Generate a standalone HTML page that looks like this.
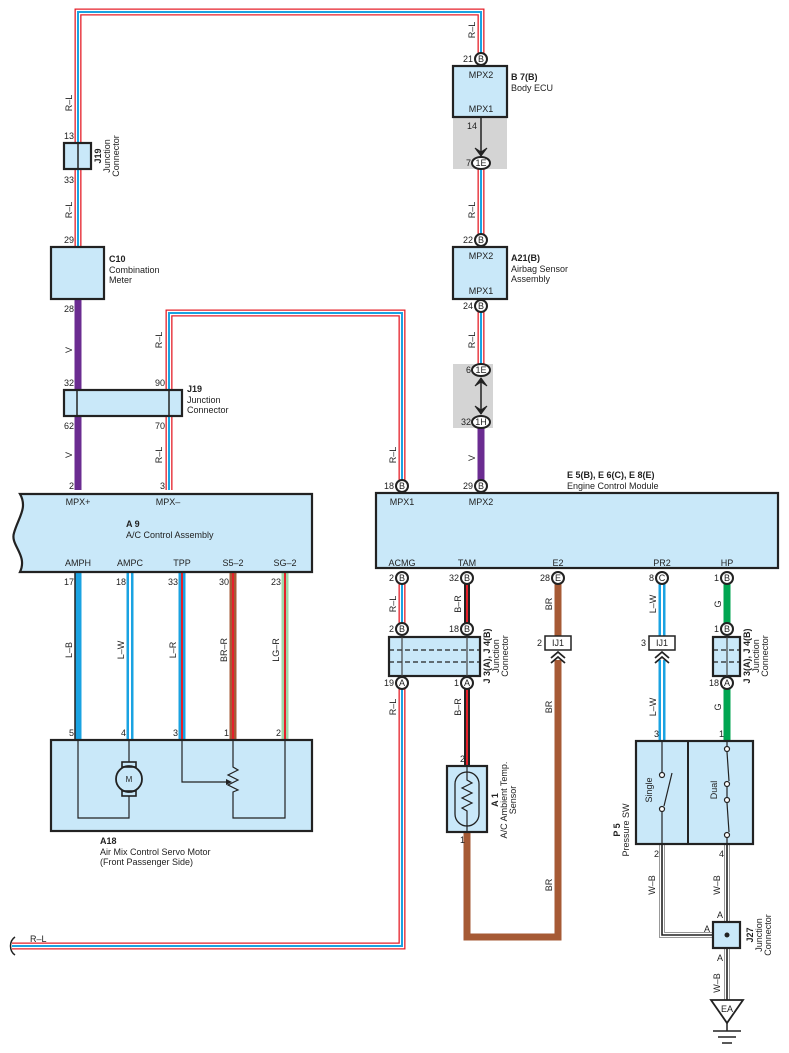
<!DOCTYPE html>
<html><head><meta charset="utf-8"><style>
html,body{margin:0;padding:0;background:#fff}
svg{display:block}
text{font-family:"Liberation Sans",sans-serif;font-size:9px;fill:#222}
.b{font-weight:bold}
.box{fill:#c9e8f9;stroke:#222;stroke-width:2.2}
.pc{fill:#fff;stroke:#222;stroke-width:2}
</style></head><body>
<svg width="789" height="1053" viewBox="0 0 789 1053" xmlns="http://www.w3.org/2000/svg">
<defs>
<path id="w1" d="M78 143 V12 H481 V53"/>
<path id="w1b" d="M78 169 V247"/>
<path id="w2" d="M169 416 V490"/>
<path id="w3" d="M169 390 V313 H402 V480"/>
<path id="w4" d="M481 169 V234"/>
<path id="w5" d="M481 312 V364"/>
<path id="w6" d="M402 584 V623"/>
<path id="w7" d="M402 689 V946 H12"/>
</defs>
<g fill="none">
<!-- R-L wires -->
<g stroke="#e5202a" stroke-width="7"><use href="#w1"/><use href="#w1b"/><use href="#w2"/><use href="#w3"/><use href="#w4"/><use href="#w5"/><use href="#w6"/><use href="#w7"/><path d="M78 64 V143"/></g>
<g stroke="#fff" stroke-width="4.4"><use href="#w1"/><use href="#w1b"/><use href="#w2"/><use href="#w3"/><use href="#w4"/><use href="#w5"/><use href="#w6"/><use href="#w7"/></g>
<g stroke="#1aa3e2" stroke-width="2"><use href="#w1"/><use href="#w1b"/><use href="#w2"/><use href="#w3"/><use href="#w4"/><use href="#w5"/><use href="#w6"/><use href="#w7"/></g>
<!-- purple -->
<path d="M78 299 V490 M481 428 V480" stroke="#6b2c91" stroke-width="7"/>
<!-- A9 to A18 -->
<path d="M78 572 V740 M130 572 V740 M182 572 V740" stroke="#1aa3e2" stroke-width="7"/>
<path d="M75 572 V740" stroke="#222" stroke-width="1.5"/>
<path d="M130 572 V740" stroke="#fff" stroke-width="2"/>
<path d="M182 572 V740" stroke="#e5202a" stroke-width="2"/>
<path d="M233 572 V740" stroke="#a65a35" stroke-width="7"/>
<path d="M233 572 V740" stroke="#e5202a" stroke-width="2"/>
<path d="M285 572 V740" stroke="#9fd8a8" stroke-width="7"/>
<path d="M285 572 V740" stroke="#e5202a" stroke-width="2"/>
<!-- TAM B-R -->
<path d="M467 584 V623 M467 689 V766" stroke="#222" stroke-width="6"/>
<path d="M467 584 V623 M467 689 V766" stroke="#e5202a" stroke-width="2"/>
<!-- brown -->
<path d="M467 832 V937 H558 V660 M558 584 V636" stroke="#a65a35" stroke-width="7"/>
<!-- PR2 L-W -->
<path d="M662 584 V636 M662 660 V741" stroke="#1aa3e2" stroke-width="7"/>
<path d="M662 584 V636 M662 660 V741" stroke="#fff" stroke-width="2"/>
<!-- HP G -->
<path d="M727 584 V623 M727 689 V741" stroke="#00a651" stroke-width="7"/>
<!-- W-B -->
<g><path d="M662 844 V935 H727 M727 844 V1000" stroke="#999" stroke-width="6"/>
<path d="M662 844 V935 H727 M727 844 V1000" stroke="#fff" stroke-width="4"/>
<path d="M662 844 V935 H727 M727 844 V1000" stroke="#222" stroke-width="1.6"/></g>
<path d="M15 937 C9 941,9 951,15 955" stroke="#222" stroke-width="1.5"/>
</g>

<!-- grey regions -->
<rect x="453" y="117" width="54" height="52" fill="#d4d4d4"/>
<rect x="453" y="364" width="40" height="64" fill="#d4d4d4"/>
<path d="M481 118 V156" stroke="#222" stroke-width="1.5"/>
<path d="M475 148 L481 156 L487 148 L481 152 Z" fill="#222" stroke="#222"/>
<path d="M481 378 V414" stroke="#222" stroke-width="1.5"/>
<path d="M475 386 L481 378 L487 386 L481 382 Z" fill="#222" stroke="#222"/>
<path d="M475 406 L481 414 L487 406 L481 410 Z" fill="#222" stroke="#222"/>

<!-- Boxes -->
<rect class="box" x="64" y="143" width="27" height="26"/><path d="M78 143 V169" stroke="#222" stroke-width="1.5"/>
<rect class="box" x="51" y="247" width="53" height="52"/>
<rect class="box" x="64" y="390" width="118" height="26"/><path d="M77 390 V416 M169 390 V416" stroke="#222" stroke-width="1.5"/>
<path class="box" d="M20 494 H312 V572 H20 C28 555,10 545,14 533 C18 518,28 508,20 494 Z"/>
<rect class="box" x="51" y="740" width="261" height="91"/>
<rect class="box" x="453" y="66" width="54" height="51"/>
<rect class="box" x="453" y="247" width="54" height="52"/>
<rect class="box" x="376" y="493" width="402" height="75"/>
<rect class="box" x="389" y="637" width="91" height="39"/>
<path d="M389 650 H480 M389 662 H480" stroke="#222" stroke-width="1.3" stroke-dasharray="5 3"/>
<path d="M402 637 V676 M467 637 V676" stroke="#444" stroke-width="1.2"/>
<rect class="box" x="713" y="637" width="27" height="39"/>
<path d="M713 650 H740 M713 662 H740" stroke="#222" stroke-width="1.3" stroke-dasharray="5 3"/>
<path d="M727 637 V676" stroke="#444" stroke-width="1.2"/>
<rect class="box" x="447" y="766" width="40" height="66"/>
<rect x="455" y="772" width="24" height="54" rx="12" fill="none" stroke="#222" stroke-width="1.3"/>
<path d="M467 766 V780 L472 783 L462 788 L472 793 L462 798 L472 803 L462 808 L467 811 V832" fill="none" stroke="#222" stroke-width="1.2"/>
<rect class="box" x="636" y="741" width="117" height="103"/><path d="M688 741 V844" stroke="#222" stroke-width="2"/>
<rect class="box" x="713" y="922" width="27" height="26"/>
<circle cx="727" cy="935" r="2.5" fill="#222"/>
<!-- IJ1 -->
<rect x="545" y="636" width="26" height="14" fill="#fff" stroke="#222" stroke-width="1.5"/>
<rect x="649" y="636" width="26" height="14" fill="#fff" stroke="#222" stroke-width="1.5"/>
<path d="M551 658 L558 652 L565 658 M551 663 L558 657 L565 663 M655 658 L662 652 L669 658 M655 663 L662 657 L669 663" fill="none" stroke="#222" stroke-width="1.8"/>

<!-- A18 internals -->
<g fill="none" stroke="#222" stroke-width="1.2">
<path d="M78 740 V818 H129 V796 M129 740 V762 M182 740 V782 H226 M233 740 V767 L238 770 L228 775 L238 780 L228 785 L238 790 L233 792 V818 H285 V740"/>
<circle cx="129" cy="779" r="13" stroke-width="1.8"/>
<rect x="122" y="762" width="14" height="5" stroke-width="1.6"/><rect x="122" y="791" width="14" height="5" stroke-width="1.6"/>
</g>
<path d="M226 779 L232 782 L226 785 Z" fill="#222"/>
<!-- P5 internals -->
<g fill="none" stroke="#222" stroke-width="1.2">
<path d="M662 741 V772 M662 812 V844 M664 806 L672 773 M727 741 V746 M727 752 L729 781 M727 787 V797 M727 803 L729 832 M727 838 V844"/>
<circle cx="662" cy="775" r="2.5" fill="#fff"/><circle cx="662" cy="809" r="2.5" fill="#fff"/>
<circle cx="727" cy="749" r="2.5" fill="#fff"/><circle cx="727" cy="784" r="2.5" fill="#fff"/>
<circle cx="727" cy="800" r="2.5" fill="#fff"/><circle cx="727" cy="835" r="2.5" fill="#fff"/>
</g>
<!-- ground -->
<path d="M711 1000 H743 L727 1023 Z" fill="#fff" stroke="#222" stroke-width="1.8"/>
<path d="M727 1023 V1031 M713 1031 H741 M718 1037 H736 M722 1043 H732" stroke="#222" stroke-width="1.5"/>
<text x="727" y="1012" text-anchor="middle">EA</text>

<!-- pin circles -->
<g>
<circle class="pc" cx="481" cy="59" r="6"/><circle class="pc" cx="481" cy="240" r="6"/><circle class="pc" cx="481" cy="306" r="6"/>
<circle class="pc" cx="402" cy="486" r="6"/><circle class="pc" cx="481" cy="486" r="6"/>
<circle class="pc" cx="402" cy="578" r="6"/><circle class="pc" cx="467" cy="578" r="6"/><circle class="pc" cx="558" cy="578" r="6"/><circle class="pc" cx="662" cy="578" r="6"/><circle class="pc" cx="727" cy="578" r="6"/>
<circle class="pc" cx="402" cy="629" r="6"/><circle class="pc" cx="467" cy="629" r="6"/><circle class="pc" cx="727" cy="629" r="6"/>
<circle class="pc" cx="402" cy="683" r="6"/><circle class="pc" cx="467" cy="683" r="6"/><circle class="pc" cx="727" cy="683" r="6"/>
<ellipse class="pc" cx="481" cy="163" rx="9" ry="6"/><ellipse class="pc" cx="481" cy="370" rx="9" ry="6"/><ellipse class="pc" cx="481" cy="422" rx="9" ry="6"/>
</g>
<g text-anchor="middle" style="font-size:8px">
<text x="481" y="62">B</text><text x="481" y="243">B</text><text x="481" y="309">B</text>
<text x="402" y="489">B</text><text x="481" y="489">B</text>
<text x="402" y="581">B</text><text x="467" y="581">B</text><text x="558" y="581">E</text><text x="662" y="581">C</text><text x="727" y="581">B</text>
<text x="402" y="632">B</text><text x="467" y="632">B</text><text x="727" y="632">B</text>
<text x="402" y="686">A</text><text x="467" y="686">A</text><text x="727" y="686">A</text>
<text x="481" y="166">1E</text><text x="481" y="373">1E</text><text x="481" y="425">1H</text>
<text x="558" y="646">IJ1</text><text x="662" y="646">IJ1</text>
</g>

<!-- pin numbers -->
<g text-anchor="end">
<text x="473" y="62">21</text><text x="477" y="129">14</text><text x="471" y="166">7</text>
<text x="473" y="243">22</text><text x="473" y="309">24</text><text x="471" y="373">6</text><text x="471" y="425">32</text>
<text x="394" y="489">18</text><text x="473" y="489">29</text>
<text x="394" y="581">2</text><text x="459" y="581">32</text><text x="550" y="581">28</text><text x="654" y="581">8</text><text x="719" y="581">1</text>
<text x="394" y="632">2</text><text x="459" y="632">18</text><text x="719" y="632">1</text>
<text x="394" y="686">19</text><text x="459" y="686">1</text><text x="719" y="686">18</text>
<text x="542" y="646">2</text><text x="646" y="646">3</text>
<text x="465" y="762">2</text><text x="465" y="843">1</text>
<text x="659" y="737">3</text><text x="724" y="737">1</text><text x="659" y="857">2</text><text x="724" y="857">4</text>
<text x="74" y="139">13</text><text x="74" y="183">33</text><text x="74" y="243">29</text><text x="74" y="312">28</text>
<text x="74" y="386">32</text><text x="74" y="429">62</text><text x="74" y="489">2</text>
<text x="165" y="386">90</text><text x="165" y="429">70</text><text x="165" y="489">3</text>
<text x="74" y="585">17</text><text x="126" y="585">18</text><text x="178" y="585">33</text><text x="229" y="585">30</text><text x="281" y="585">23</text>
<text x="74" y="736">5</text><text x="126" y="736">4</text><text x="178" y="736">3</text><text x="229" y="736">1</text><text x="281" y="736">2</text>
<text x="723" y="918">A</text><text x="710" y="932">A</text><text x="723" y="961">A</text>
</g>

<!-- box labels -->
<g text-anchor="middle">
<text x="481" y="78">MPX2</text><text x="481" y="112">MPX1</text>
<text x="481" y="259">MPX2</text><text x="481" y="294">MPX1</text>
<text x="78" y="505">MPX+</text><text x="168" y="505">MPX–</text>
<text x="78" y="566">AMPH</text><text x="130" y="566">AMPC</text><text x="182" y="566">TPP</text><text x="233" y="566">S5–2</text><text x="285" y="566">SG–2</text>
<text x="402" y="505">MPX1</text><text x="481" y="505">MPX2</text>
<text x="402" y="566">ACMG</text><text x="467" y="566">TAM</text><text x="558" y="566">E2</text><text x="662" y="566">PR2</text><text x="727" y="566">HP</text>
<text x="129" y="782" style="font-size:8px">M</text>
</g>
<text x="511" y="80" class="b">B 7(B)</text><text x="511" y="91">Body ECU</text>
<text x="511" y="261" class="b">A21(B)</text><text x="511" y="272">Airbag Sensor</text><text x="511" y="282">Assembly</text>
<text x="109" y="262" class="b">C10</text><text x="109" y="273">Combination</text><text x="109" y="283">Meter</text>
<text x="187" y="392" class="b">J19</text><text x="187" y="403">Junction</text><text x="187" y="413">Connector</text>
<text x="126" y="527" class="b">A 9</text><text x="126" y="538">A/C Control Assembly</text>
<text x="567" y="478" class="b">E 5(B), E 6(C), E 8(E)</text><text x="567" y="489">Engine Control Module</text>
<text x="100" y="844" class="b">A18</text><text x="100" y="855">Air Mix Control Servo Motor</text><text x="100" y="865">(Front Passenger Side)</text>
<text x="30" y="942">R–L</text>

<!-- rotated labels -->
<g text-anchor="middle">
<text transform="translate(101 156) rotate(-90)" class="b">J19</text>
<text transform="translate(110 156) rotate(-90)">Junction</text>
<text transform="translate(119 156) rotate(-90)">Connector</text>
<text transform="translate(490 656) rotate(-90)" class="b">J 3(A), J 4(B)</text>
<text transform="translate(499 656) rotate(-90)">Junction</text>
<text transform="translate(508 656) rotate(-90)">Connector</text>
<text transform="translate(750 656) rotate(-90)" class="b">J 3(A), J 4(B)</text>
<text transform="translate(759 656) rotate(-90)">Junction</text>
<text transform="translate(768 656) rotate(-90)">Connector</text>
<text transform="translate(498 800) rotate(-90)" class="b">A 1</text>
<text transform="translate(507 800) rotate(-90)">A/C Ambient Temp.</text>
<text transform="translate(516 800) rotate(-90)">Sensor</text>
<text transform="translate(620 830) rotate(-90)" class="b">P 5</text>
<text transform="translate(629 830) rotate(-90)">Pressure SW</text>
<text transform="translate(753 935) rotate(-90)" class="b">J27</text>
<text transform="translate(762 935) rotate(-90)">Junction</text>
<text transform="translate(771 935) rotate(-90)">Connector</text>
<text transform="translate(652 790) rotate(-90)">Single</text>
<text transform="translate(717 790) rotate(-90)">Dual</text>
<text transform="translate(72 103) rotate(-90)">R–L</text>
<text transform="translate(72 210) rotate(-90)">R–L</text>
<text transform="translate(72 350) rotate(-90)">V</text>
<text transform="translate(72 455) rotate(-90)">V</text>
<text transform="translate(162 340) rotate(-90)">R–L</text>
<text transform="translate(162 455) rotate(-90)">R–L</text>
<text transform="translate(396 455) rotate(-90)">R–L</text>
<text transform="translate(475 30) rotate(-90)">R–L</text>
<text transform="translate(475 210) rotate(-90)">R–L</text>
<text transform="translate(475 340) rotate(-90)">R–L</text>
<text transform="translate(475 458) rotate(-90)">V</text>
<text transform="translate(72 650) rotate(-90)">L–B</text>
<text transform="translate(124 650) rotate(-90)">L–W</text>
<text transform="translate(176 650) rotate(-90)">L–R</text>
<text transform="translate(227 650) rotate(-90)">BR–R</text>
<text transform="translate(279 650) rotate(-90)">LG–R</text>
<text transform="translate(396 604) rotate(-90)">R–L</text>
<text transform="translate(396 707) rotate(-90)">R–L</text>
<text transform="translate(461 604) rotate(-90)">B–R</text>
<text transform="translate(461 707) rotate(-90)">B–R</text>
<text transform="translate(552 604) rotate(-90)">BR</text>
<text transform="translate(552 707) rotate(-90)">BR</text>
<text transform="translate(552 885) rotate(-90)">BR</text>
<text transform="translate(656 604) rotate(-90)">L–W</text>
<text transform="translate(656 707) rotate(-90)">L–W</text>
<text transform="translate(721 604) rotate(-90)">G</text>
<text transform="translate(721 707) rotate(-90)">G</text>
<text transform="translate(655 885) rotate(-90)">W–B</text>
<text transform="translate(720 885) rotate(-90)">W–B</text>
<text transform="translate(720 983) rotate(-90)">W–B</text>
</g>
</svg>
</body></html>
